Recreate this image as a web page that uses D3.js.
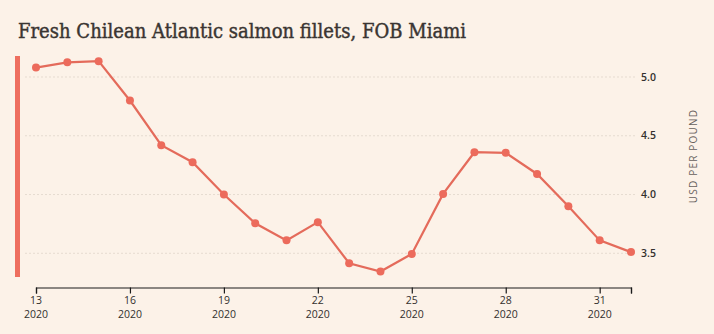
<!DOCTYPE html>
<html>
<head>
<meta charset="utf-8">
<script src="https://cdn.jsdelivr.net/npm/d3@7"></script>
<style>
  html, body { margin: 0; padding: 0; background: #fcf2e8; }
  svg { display: block; }
</style>
</head>
<body>
<div id="chart"></div>
<script>
// Weekly price, fresh Chilean Atlantic salmon fillets, FOB Miami (USD per pound)
const weeks = [13, 14, 15, 16, 17, 18, 19, 20, 21, 22, 23, 24, 25, 26, 27, 28, 29, 30, 31, 32];
const prices = [5.08, 5.125, 5.135, 4.80, 4.42, 4.275, 4.00, 3.755, 3.61, 3.765, 3.415, 3.345, 3.495, 4.005, 4.36, 4.355, 4.175, 3.90, 3.61, 3.51];
const tickWeeks = [13, 16, 19, 22, 25, 28, 31, 32];
const labelledWeeks = [13, 16, 19, 22, 25, 28, 31];
const year = "2020";
const yTicks = [3.5, 4.0, 4.5, 5.0];

const W = 714, H = 334;
const svg = d3.select("#chart").append("svg").attr("width", W).attr("height", H);

svg.append("rect").attr("width", W).attr("height", H).attr("fill", "#fcf2e8");

// title: regular serif with a light outline for a medium weight
svg.append("text")
  .attr("x", 18).attr("y", 38)
  .attr("font-family", "'DejaVu Serif', 'Liberation Serif', serif")
  .attr("font-size", 19.5)
  .attr("fill", "#3a3532")
  .attr("stroke", "#3a3532")
  .attr("stroke-width", 0.45)
  .attr("textLength", 448)
  .attr("lengthAdjust", "spacingAndGlyphs")
  .text("Fresh Chilean Atlantic salmon fillets, FOB Miami");

const x = d3.scaleLinear().domain([13, 32]).range([36, 631]);
const y = d3.scaleLinear().domain([3.5, 5.0]).range([253.3, 77]);

// accent bar on the left
svg.append("rect")
  .attr("x", 15).attr("width", 5)
  .attr("y", 56).attr("height", 221)
  .attr("fill", "#ee6f5f");

// gridlines
svg.append("g").selectAll("line").data(yTicks).join("line")
  .attr("x1", 25).attr("x2", 636)
  .attr("y1", d => y(d)).attr("y2", d => y(d))
  .attr("stroke", "#e6dbd0")
  .attr("stroke-width", 1)
  .attr("stroke-dasharray", "2,2");

// right value labels
svg.append("g").selectAll("text").data(yTicks).join("text")
  .attr("x", 641).attr("y", d => y(d))
  .attr("dy", "0.35em")
  .attr("font-family", "'Open Sans', 'DejaVu Sans', sans-serif")
  .attr("font-size", 10.5)
  .attr("font-weight", 600)
  .attr("fill", "#33302e")
  .text(d => d3.format(".1f")(d));

svg.append("text")
  .attr("transform", "translate(697,156) rotate(-90)")
  .attr("text-anchor", "middle")
  .attr("font-family", "'Open Sans', 'DejaVu Sans', sans-serif")
  .attr("font-size", 10)
  .attr("letter-spacing", 1.2)
  .attr("fill", "#66605c")
  .text("USD PER POUND");

// x axis
const axisY = 287.5;
const xAxis = d3.axisBottom(x)
  .tickValues(tickWeeks)
  .tickSize(6)
  .tickFormat(() => "");
const gx = svg.append("g").attr("transform", `translate(0,${axisY})`).call(xAxis);
gx.select(".domain").attr("stroke", "#1a1a1a").attr("stroke-width", 1.2);
gx.selectAll(".tick line").attr("stroke", "#1a1a1a").attr("stroke-width", 1.2);

const lbl = svg.append("g").selectAll("text").data(labelledWeeks).join("text")
  .attr("x", d => x(d))
  .attr("text-anchor", "middle")
  .attr("font-family", "'Open Sans', 'DejaVu Sans', sans-serif")
  .attr("font-size", 10.5)
  .attr("fill", "#33302e");
lbl.append("tspan").attr("x", d => x(d)).attr("y", 304).text(d => d);
lbl.append("tspan").attr("x", d => x(d)).attr("y", 317.5).text(year);

// price line and points
const data = weeks.map((w, i) => ({ w, v: prices[i] }));
svg.append("path")
  .datum(data)
  .attr("fill", "none")
  .attr("stroke", "#e46b5b")
  .attr("stroke-width", 2.2)
  .attr("d", d3.line().x(d => x(d.w)).y(d => y(d.v)));

svg.append("g").selectAll("circle").data(data).join("circle")
  .attr("cx", d => x(d.w)).attr("cy", d => y(d.v))
  .attr("r", 4)
  .attr("fill", "#ec6b5c");
</script>
</body>
</html>
